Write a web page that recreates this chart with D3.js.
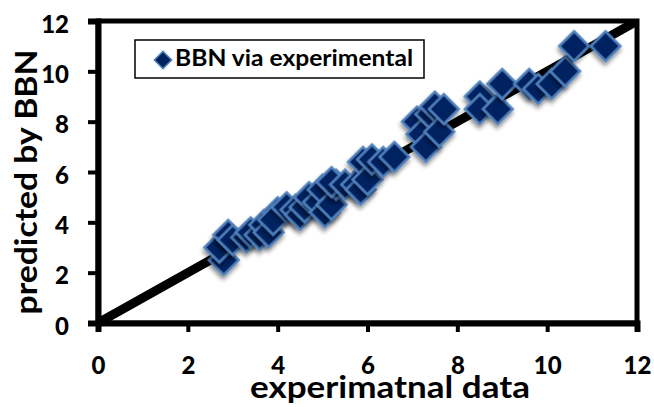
<!DOCTYPE html>
<html>
<head>
<meta charset="utf-8">
<script src="https://cdn.jsdelivr.net/npm/d3@7"></script>
<style>
  html, body { margin: 0; padding: 0; background: #fff; }
  svg { display: block; }
</style>
</head>
<body>
<svg id="chart" width="654" height="407"></svg>
<script>
// ---- data ----
const seriesName = "BBN via experimental";
const experimental = [2.8, 2.7, 2.9, 3.0, 3.3, 3.4, 3.6, 3.7, 3.8, 4.0, 3.9, 4.2, 4.4, 4.5, 4.6, 4.7, 4.9, 5.0, 5.05, 5.2, 5.3, 5.2, 5.5, 5.75, 5.85, 5.9, 6.0, 6.1, 6.35, 6.6, 7.1, 7.2, 7.3, 7.4, 7.5, 7.6, 7.7, 8.5, 8.5, 8.9, 9.0, 9.6, 9.8, 10.1, 10.4, 10.6, 11.3];
const predicted    = [2.5, 3.0, 3.5, 3.3, 3.4, 3.6, 3.5, 3.9, 3.6, 4.4, 4.1, 4.6, 4.5, 4.3, 4.6, 5.0, 4.8, 5.3, 4.4, 4.7, 5.5, 5.6, 5.5, 5.5, 5.3, 6.4, 5.7, 6.5, 6.4, 6.6, 8.0, 7.5, 7.0, 8.3, 8.6, 7.6, 8.5, 9.0, 8.5, 8.5, 9.5, 9.5, 9.3, 9.5, 10.0, 11.0, 11.0];
const lineX = [0, 12];
const lineY = [0, 12];
const xTicks = [0, 2, 4, 6, 8, 10, 12];
const yTicks = [0, 2, 4, 6, 8, 10, 12];
const xTitle = "experimatnal data";
const yTitle = "predicted by BBN";

// ---- drawing ----
const svg = d3.select("#chart");
const font = "Lato, 'Open Sans', sans-serif";
const x = d3.scaleLinear().domain([0, 12]).range([98, 637]);
const y = d3.scaleLinear().domain([0, 12]).range([323, 21]);

const defs = svg.append("defs");
defs.append("clipPath").attr("id", "plotClip")
  .append("rect")
  .attr("x", x(0)).attr("y", y(12))
  .attr("width", x(12) - x(0)).attr("height", y(0) - y(12));
const f = defs.append("filter").attr("id", "shadow")
  .attr("x", "-50%").attr("y", "-50%").attr("width", "200%").attr("height", "200%");
f.append("feDropShadow").attr("dx", 2).attr("dy", 3).attr("stdDeviation", 2)
  .attr("flood-color", "#000").attr("flood-opacity", 0.45);

// diagonal line
const lineData = lineX.map((v, i) => [v, lineY[i]]);
svg.append("path")
  .datum(lineData)
  .attr("clip-path", "url(#plotClip)")
  .attr("d", d3.line().x(d => x(d[0])).y(d => y(d[1])))
  .attr("fill", "none").attr("stroke", "#000").attr("stroke-width", 9);

// frame
svg.append("rect")
  .attr("x", x(0)).attr("y", y(12))
  .attr("width", x(12) - x(0)).attr("height", y(0) - y(12))
  .attr("fill", "none").attr("stroke", "#000").attr("stroke-width", 5);

// axes
const xAxis = svg.append("g").attr("transform", `translate(0,${y(0)})`)
  .call(d3.axisBottom(x).tickValues(xTicks).tickSize(9).tickPadding(25).tickFormat(d3.format("d")));
const yAxis = svg.append("g").attr("transform", `translate(${x(0)},0)`)
  .call(d3.axisLeft(y).tickValues(yTicks).tickSize(10).tickPadding(19).tickFormat(d3.format("d")));
[xAxis, yAxis].forEach(g => {
  g.select(".domain").attr("stroke", "#000").attr("stroke-width", 6);
  g.selectAll(".tick line").attr("stroke", "#000").attr("stroke-width", 4);
  g.selectAll(".tick text").attr("fill", "#000")
    .style("font-family", font).style("font-weight", "900").style("font-size", "24px");
});
yAxis.selectAll(".tick text").attr("dy", "0.47em");

// points
const pts = experimental.map((v, i) => ({ x: v, y: predicted[i] }));
const sym = d3.symbol().type(d3.symbolSquare).size(440);
svg.append("g")
  .selectAll("path.pt").data(pts).join("path")
  .attr("class", "pt")
  .attr("d", sym)
  .attr("transform", d => `translate(${x(d.x)},${y(d.y)}) rotate(45)`)
  .attr("fill", "#002060")
  .attr("stroke", "#4F81BD")
  .attr("stroke-width", 2.5)
  .attr("filter", "url(#shadow)");

// legend
const lg = svg.append("g");
lg.append("rect").attr("x", 135).attr("y", 40).attr("width", 289).attr("height", 38)
  .attr("fill", "#fff").attr("stroke", "#000").attr("stroke-width", 1.5);
lg.append("path").attr("d", d3.symbol().type(d3.symbolSquare).size(150))
  .attr("transform", "translate(163,60) rotate(45)")
  .attr("fill", "#002060").attr("stroke", "#4F81BD").attr("stroke-width", 1.5);
lg.append("text").attr("x", 175).attr("y", 66)
  .attr("textLength", 238).attr("lengthAdjust", "spacingAndGlyphs")
  .style("font-family", font).style("font-weight", "bold").style("font-size", "22px")
  .attr("fill", "#000").text(seriesName);

// titles
svg.append("text").attr("x", 390).attr("y", 398).attr("text-anchor", "middle")
  .attr("textLength", 280).attr("lengthAdjust", "spacingAndGlyphs")
  .style("font-family", font).style("font-weight", "bold").style("font-size", "30px")
  .attr("fill", "#000").text(xTitle);
svg.append("text").attr("transform", "translate(37,182) rotate(-90)").attr("text-anchor", "middle")
  .attr("textLength", 265).attr("lengthAdjust", "spacingAndGlyphs")
  .style("font-family", font).style("font-weight", "bold").style("font-size", "30px")
  .attr("fill", "#000").text(yTitle);
</script>
</body>
</html>
